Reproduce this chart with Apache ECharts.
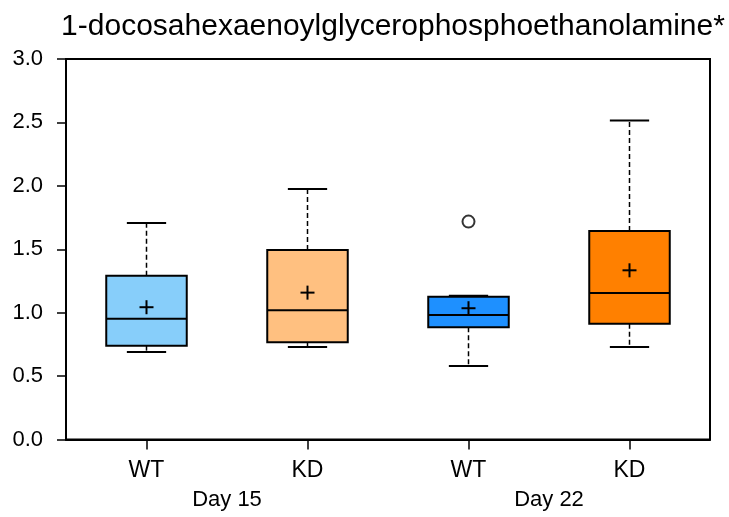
<!DOCTYPE html>
<html>
<head>
<meta charset="utf-8">
<script src="https://cdn.jsdelivr.net/npm/echarts@6/dist/echarts.min.js"></script>
<style>
html,body{margin:0;padding:0;background:#fff;}
#chart{width:729px;height:517px;}
</style>
</head>
<body>
<div id="chart"></div>
<script>
// ---- data ----
const titleText = '1-docosahexaenoylglycerophosphoethanolamine*';
const categories = ['WT', 'KD', 'WT', 'KD'];
const groups = ['Day 15', 'Day 22'];
const whiskerLow  = [0.69, 0.73, 0.58, 0.73];
const q1          = [0.74, 0.767, 0.885, 0.913];
const median      = [0.953, 1.019, 0.982, 1.155];
const q3          = [1.292, 1.494, 1.126, 1.644];
const whiskerHigh = [1.707, 1.976, 1.134, 2.516];
const means       = [1.043, 1.158, 1.035, 1.334];
const outlierIdx  = [2];
const outlierVal  = [1.718];
const yTicks = [0, 0.5, 1.0, 1.5, 2.0, 2.5, 3.0];
const boxColors = ['#87CEFA', '#FFC080', '#1E90FF', '#FF8000'];

// ---- build ----
const boxData = categories.map((c, i) => [i, whiskerLow[i], q1[i], median[i], q3[i], whiskerHigh[i], means[i]]);
const outlierData = outlierIdx.map((i, k) => [i, outlierVal[k]]);
const FONT = 'Liberation Sans, Arial, Helvetica, sans-serif';

function renderBox(params, api) {
  const i = api.value(0);
  const band = api.size([1, 0])[0];
  const half = band * 0.25;
  const capHalf = band * 0.122;
  const cx = api.coord([i, 0])[0];
  const yLow = api.coord([i, api.value(1)])[1];
  const yQ1 = api.coord([i, api.value(2)])[1];
  const yMed = api.coord([i, api.value(3)])[1];
  const yQ3 = api.coord([i, api.value(4)])[1];
  const yHigh = api.coord([i, api.value(5)])[1];
  const yMean = api.coord([i, api.value(6)])[1];
  const dash = {stroke: '#000', lineWidth: 1.5, lineDash: [5, 3]};
  const solid = {stroke: '#000', lineWidth: 2};
  const p = 7;
  return {
    type: 'group',
    children: [
      {type: 'line', shape: {x1: cx, y1: yQ3, x2: cx, y2: yHigh}, style: dash},
      {type: 'line', shape: {x1: cx, y1: yQ1, x2: cx, y2: yLow}, style: dash},
      {type: 'line', shape: {x1: cx - capHalf, y1: yHigh, x2: cx + capHalf, y2: yHigh}, style: solid},
      {type: 'line', shape: {x1: cx - capHalf, y1: yLow, x2: cx + capHalf, y2: yLow}, style: solid},
      {type: 'rect', shape: {x: cx - half, y: yQ3, width: half * 2, height: yQ1 - yQ3},
        style: {fill: boxColors[i], stroke: '#000', lineWidth: 2}},
      {type: 'line', shape: {x1: cx - half, y1: yMed, x2: cx + half, y2: yMed}, style: solid},
      {type: 'line', shape: {x1: cx - p, y1: yMean, x2: cx + p, y2: yMean}, style: solid},
      {type: 'line', shape: {x1: cx, y1: yMean - p, x2: cx, y2: yMean + p}, style: solid}
    ]
  };
}

const chart = echarts.init(document.getElementById('chart'), null, {renderer: 'canvas'});
chart.setOption({
  backgroundColor: '#fff',
  animation: false,
  title: {
    text: titleText,
    left: 388, textAlign: 'center', top: 7,
    textStyle: {fontFamily: FONT, fontSize: 30, fontWeight: 'normal', color: '#000'}
  },
  grid: {left: 66, right: 19, top: 59, bottom: 77.5, show: true, borderColor: '#000', borderWidth: 2, backgroundColor: 'transparent'},
  xAxis: [{
    type: 'category', data: categories, position: 'bottom',
    axisLine: {show: true, lineStyle: {color: '#000', width: 2}},
    axisTick: {show: true, alignWithLabel: true, length: 10, lineStyle: {color: '#000', width: 1.5}},
    axisLabel: {margin: 20, color: '#000', fontSize: 23, fontFamily: FONT},
    splitLine: {show: false}
  }, {
    type: 'category', data: groups, position: 'bottom', offset: 29,
    axisLine: {show: false}, axisTick: {show: false},
    axisLabel: {margin: 20, color: '#000', fontSize: 22, fontFamily: FONT},
    splitLine: {show: false}
  }],
  yAxis: {
    type: 'value', min: yTicks[0], max: yTicks[yTicks.length - 1], interval: 0.5,
    axisLine: {show: true, lineStyle: {color: '#000', width: 2}},
    axisTick: {show: true, length: 9, lineStyle: {color: '#000', width: 1.5}},
    axisLabel: {margin: 23, color: '#000', fontSize: 22, fontFamily: FONT, formatter: v => v.toFixed(1)},
    splitLine: {show: false}
  },
  series: [{
    type: 'custom', xAxisIndex: 0, renderItem: renderBox, data: boxData,
    encode: {x: 0, y: [1, 2, 3, 4, 5, 6]}, clip: false
  }, {
    type: 'scatter', xAxisIndex: 0, data: outlierData, symbol: 'circle', symbolSize: 12,
    itemStyle: {color: '#fff', borderColor: '#000', borderWidth: 2}
  }]
});
</script>
</body>
</html>
